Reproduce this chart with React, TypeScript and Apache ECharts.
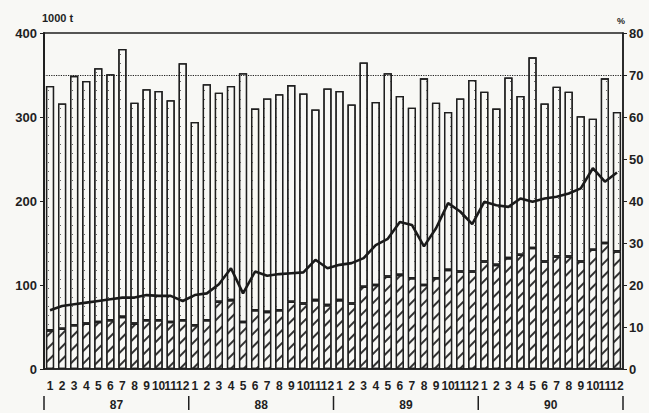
import React, { useEffect, useRef } from "react";
import * as echarts from "echarts";

const months = ["1","2","3","4","5","6","7","8","9","10","11","12"];
const years = ["87", "88", "89", "90"];
const categories = years.flatMap((y) => months.map((m) => `${y}-${m}`));

// total height of each bar (1000 t)
const totals = [
  337, 316, 349, 343, 358, 351, 381, 317, 333, 331, 320, 364,
  294, 339, 329, 337, 352, 310, 322, 327, 338, 328, 309, 334,
  331, 315, 365, 318, 352, 325, 311, 346, 317, 306, 322, 344,
  330, 310, 347, 325, 371, 316, 336, 330, 301, 298, 346, 306,
];
// hatched lower part (1000 t)
const hatched = [
  46, 48, 52, 54, 56, 58, 62, 54, 58, 58, 56, 58,
  52, 58, 80, 82, 56, 70, 68, 70, 80, 78, 82, 76,
  82, 78, 98, 100, 110, 112, 108, 100, 108, 118, 116, 116,
  128, 124, 132, 136, 144, 128, 134, 134, 128, 142, 150, 140,
];
// share (%) right axis
const share = [
  14.0, 15.0, 15.4, 15.8, 16.2, 16.6, 17.0, 17.0, 17.6, 17.4, 17.4, 16.2,
  17.6, 18.0, 20.2, 24.0, 18.0, 23.2, 22.2, 22.6, 22.8, 23.0, 26.0, 24.0,
  24.8, 25.2, 26.4, 29.5, 31.0, 35.0, 34.3, 29.2, 33.5, 39.5, 37.5, 34.5,
  39.8, 39.0, 38.6, 40.6, 39.8, 40.6, 41.0, 41.8, 43.0, 47.8, 44.6, 46.8,
];
const referenceLevel = 350;

const ink = "#1f1f1f";
const paper = "#f8f8f5";
const font = "'Liberation Sans', Arial, sans-serif";

export default function App() {
  const ref = useRef<HTMLDivElement>(null);
  useEffect(() => {
    if (!ref.current) return;
    const chart = echarts.init(ref.current, undefined, { renderer: "svg" });
    const upper = totals.map((t, i) => t - hatched[i]);
    chart.setOption({
      animation: false,
      backgroundColor: paper,
      grid: {
        left: 44, right: 26, top: 33, bottom: 44,
        show: true, borderColor: ink, borderWidth: 1.5, backgroundColor: "transparent",
      },
      xAxis: [
        {
          type: "category",
          data: categories,
          axisLine: { lineStyle: { color: ink, width: 1.5 } },
          axisTick: { show: false },
          axisLabel: {
            interval: 0, margin: 11, color: ink,
            fontFamily: font, fontWeight: "bold", fontSize: 12,
            formatter: (v: string) => v.split("-")[1],
          },
        },
        {
          type: "category",
          data: years,
          position: "bottom",
          offset: 27,
          axisLine: { show: false },
          axisTick: { show: false },
          axisLabel: { interval: 0, margin: 3, color: ink, fontFamily: font, fontWeight: "bold", fontSize: 12 },
        },
      ],
      yAxis: [
        {
          type: "value", min: 0, max: 400, interval: 100,
          axisLine: { show: true, lineStyle: { color: ink, width: 2 } },
          axisTick: { show: true, length: 4, lineStyle: { color: ink } },
          splitLine: { show: false },
          axisLabel: { margin: 7, color: ink, fontFamily: font, fontWeight: "bold", fontSize: 13 },
        },
        {
          type: "value", min: 0, max: 80, interval: 10,
          axisLine: { show: true, lineStyle: { color: ink, width: 1.5 } },
          axisTick: { show: true, length: 4, lineStyle: { color: ink } },
          splitLine: { show: false },
          axisLabel: { margin: 6, color: ink, fontFamily: font, fontWeight: "bold", fontSize: 13 },
        },
      ],
      series: [
        {
          type: "bar",
          stack: "a",
          data: hatched,
          barWidth: "68%",
          itemStyle: {
            color: paper,
            borderColor: ink,
            borderWidth: 1.3,
            decal: {
              symbol: "rect", symbolSize: 1, color: "#333",
              dashArrayX: [1, 0], dashArrayY: [1.3, 7], rotation: -Math.PI / 4,
            },
          },
        },
        {
          type: "bar",
          stack: "a",
          data: upper,
          barWidth: "68%",
          itemStyle: {
            color: paper,
            borderColor: ink,
            borderWidth: 1.3,
            decal: {
              symbol: "rect", symbolSize: 1, color: "#666",
              dashArrayX: [1, 5], dashArrayY: [1, 8],
            },
          },
          markLine: {
            silent: true,
            symbol: "none",
            label: { show: false },
            lineStyle: { color: ink, type: "dotted", width: 1.2 },
            data: [{ yAxis: referenceLevel }],
          },
        },
        {
          type: "line",
          yAxisIndex: 1,
          data: share,
          symbol: "none",
          z: 5,
          lineStyle: { color: "#1a1a1a", width: 2.6 },
        },
      ],
    });

    // year separators under the month labels, placed through the chart's own scale
    const step = chart.convertToPixel({ xAxisIndex: 0 }, categories[1]) - chart.convertToPixel({ xAxisIndex: 0 }, categories[0]);
    const bottomY = chart.convertToPixel({ yAxisIndex: 0 }, 0);
    const separators: any[] = [];
    for (let k = 0; k <= years.length; k++) {
      const idx = Math.min(k * 12, categories.length - 1);
      const cx = chart.convertToPixel({ xAxisIndex: 0 }, categories[idx]);
      const x = k * 12 < categories.length ? cx - step / 2 : cx + step / 2;
      separators.push({
        type: "line",
        shape: { x1: x, y1: bottomY + 27, x2: x, y2: bottomY + 41 },
        style: { stroke: ink, lineWidth: 1.5 },
      });
    }
    chart.setOption({
      graphic: [
        { type: "text", left: 42, top: 12, style: { text: "1000 t", font: `bold 11px ${font}`, fill: ink } },
        { type: "text", left: 617, top: 16, style: { text: "%", font: `bold 9px ${font}`, fill: ink } },
        ...separators,
      ],
    });
    return () => chart.dispose();
  }, []);
  return (
    <div
      ref={ref}
      style={{ position: "fixed", left: 0, top: 0, width: 649, height: 413 }}
    />
  );
}
